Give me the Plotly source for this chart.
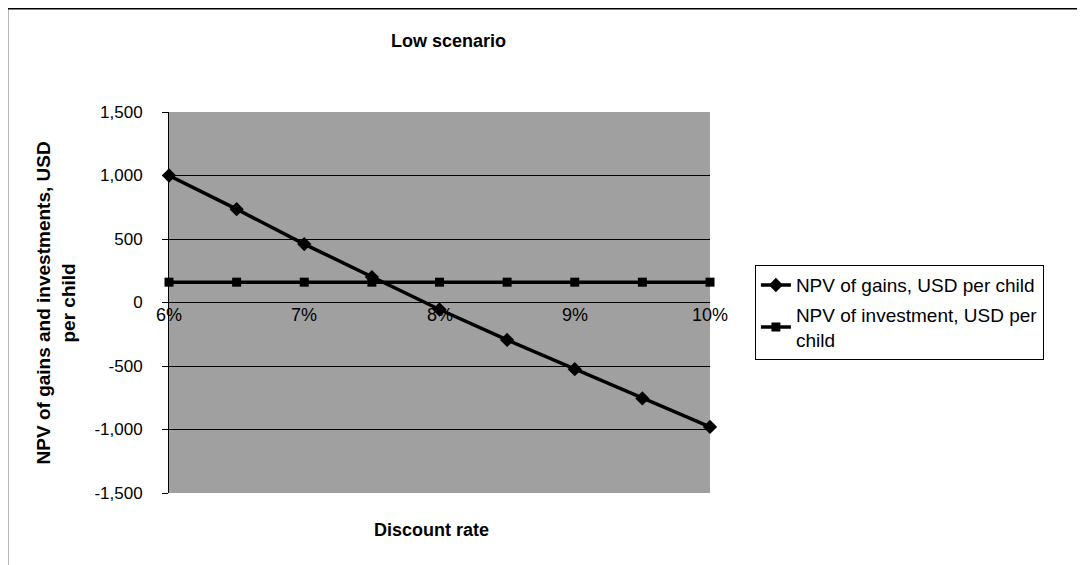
import plotly.graph_objects as go

discount_rate = [6.0, 6.5, 7.0, 7.5, 8.0, 8.5, 9.0, 9.5, 10.0]
npv_gains = [1000, 735, 460, 200, -55, -295, -525, -755, -980]
npv_investment = [160, 160, 160, 160, 160, 160, 160, 160, 160]
x_tick_vals = [6, 7, 8, 9, 10]
x_tick_text = ["6%", "7%", "8%", "9%", "10%"]
y_tick_vals = [-1500, -1000, -500, 0, 500, 1000, 1500]
y_tick_text = ["-1,500", "-1,000", "-500", "0", "500", "1,000", "1,500"]

FONT = "Liberation Sans, Arial, sans-serif"

fig = go.Figure()
fig.add_trace(go.Scatter(
    x=discount_rate, y=npv_gains, mode="lines+markers",
    name="NPV of gains, USD per child", legendgroup="a",
    line=dict(color="black", width=3.5),
    marker=dict(symbol="diamond", size=11, color="black"),
    cliponaxis=False,
))
fig.add_trace(go.Scatter(
    x=discount_rate, y=npv_investment, mode="lines+markers",
    name="NPV of investment, USD per<br>child", legendgroup="b",
    line=dict(color="black", width=3.5),
    marker=dict(symbol="square", size=9, color="black"),
    cliponaxis=False,
))

for v, t in zip(x_tick_vals, x_tick_text):
    fig.add_annotation(x=v, y=0, text=t, showarrow=False, yanchor="top",
                       xanchor="center", yshift=0,
                       font=dict(family=FONT, size=18, color="black"))

# axis titles
fig.add_annotation(xref="paper", yref="paper", x=0.486, y=-0.097,
                   text="<b>Discount rate</b>", showarrow=False,
                   xanchor="center", yanchor="middle",
                   font=dict(family=FONT, size=18, color="black"))
fig.add_annotation(xref="paper", yref="paper", x=-0.209, y=0.5,
                   text="<b>NPV of gains and investments, USD<br>per child</b>",
                   showarrow=False, textangle=-90,
                   xanchor="center", yanchor="middle",
                   font=dict(family=FONT, size=19, color="black"))

fig.update_layout(
    width=1085, height=565,
    paper_bgcolor="white", plot_bgcolor="#a0a0a0",
    margin=dict(l=161, r=383, t=104, b=80),
    font=dict(family=FONT, size=16, color="black"),
    title=dict(text="<b>Low scenario</b>", x=0.406, xanchor="center",
               y=0.943, yanchor="middle", font=dict(size=18)),
    showlegend=True,
    legend=dict(x=1.083, y=0.598, xanchor="left", yanchor="top",
                bordercolor="black", borderwidth=1, bgcolor="white",
                tracegroupgap=2, font=dict(size=19)),
    xaxis=dict(range=[6, 10], showticklabels=False, showgrid=False,
               zeroline=False, ticks="", showline=False),
    yaxis=dict(range=[-1500, 1500], tickvals=y_tick_vals, ticktext=y_tick_text,
               showgrid=True, gridcolor="black", gridwidth=1,
               zeroline=False, showline=True, linecolor="black", linewidth=1,
               ticks="outside", ticklen=6, tickcolor="black",
               ticklabelstandoff=16,
               tickfont=dict(size=17)),
)

# outer chart frame
fig.add_shape(type="line", xref="paper", yref="paper",
              x0=-0.298, x1=1.71, y0=1.2717, y1=1.2717,
              line=dict(color="black", width=2))
fig.add_shape(type="line", xref="paper", yref="paper",
              x0=-0.298, x1=-0.298, y0=1.2717, y1=-0.25,
              line=dict(color="black", width=1))

fig.write_html("out.html")
